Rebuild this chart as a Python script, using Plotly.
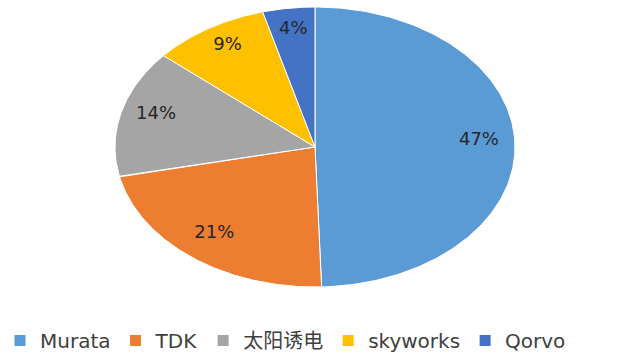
import numpy as np
import plotly.graph_objects as go

companies = ["Murata", "TDK", "太阳诱电", "skyworks", "Qorvo"]
shares = [47, 21, 14, 9, 4]
colors = ["#5B9BD5", "#ED7D31", "#A5A5A5", "#FFC000", "#4472C4"]

vals = np.array(shares, dtype=float)
frac = vals / vals.sum()
ends = np.cumsum(frac) * 2 * np.pi
starts = ends - frac * 2 * np.pi

FONT = "DejaVu Sans, Noto Sans CJK SC"

fig = go.Figure()
for name, v, c, a0, a1 in zip(companies, shares, colors, starts, ends):
    t = np.linspace(a0, a1, 200)
    xs = np.concatenate([[0], np.sin(t), [0]])
    ys = np.concatenate([[0], np.cos(t), [0]])
    fig.add_trace(go.Scatter(x=xs, y=ys, mode="lines", fill="toself", fillcolor=c,
                             line=dict(color="white", width=1), showlegend=False,
                             hoverinfo="skip"))

mids = (starts + ends) / 2
r_lab = 0.82
fig.add_trace(go.Scatter(x=r_lab * np.sin(mids), y=r_lab * np.cos(mids) + 0.03, mode="text",
                         text=[f"{v}%" for v in shares],
                         textfont=dict(size=18, color="#262626", family=FONT),
                         showlegend=False, hoverinfo="skip"))

for name, c in zip(companies, colors):
    fig.add_trace(go.Scatter(x=[None], y=[None], mode="markers", name=name,
                             marker=dict(symbol="square", size=11, color=c)))

fig.update_layout(
    width=640, height=360,
    margin=dict(l=0, r=0, t=0, b=0, autoexpand=False),
    paper_bgcolor="white", plot_bgcolor="white",
    xaxis=dict(range=[-315 / 200, 325 / 200], visible=False, fixedrange=True),
    yaxis=dict(range=[-(360 - 147) / 140, 147 / 140], visible=False, fixedrange=True),
    legend=dict(orientation="h", x=-0.012, xanchor="left", y=-0.038, yanchor="bottom",
                yref="container", xref="container",
                font=dict(size=20, color="#404040", family=FONT),
                itemwidth=30, traceorder="normal"),
    font=dict(family=FONT),
)

fig.write_html("out.html")
